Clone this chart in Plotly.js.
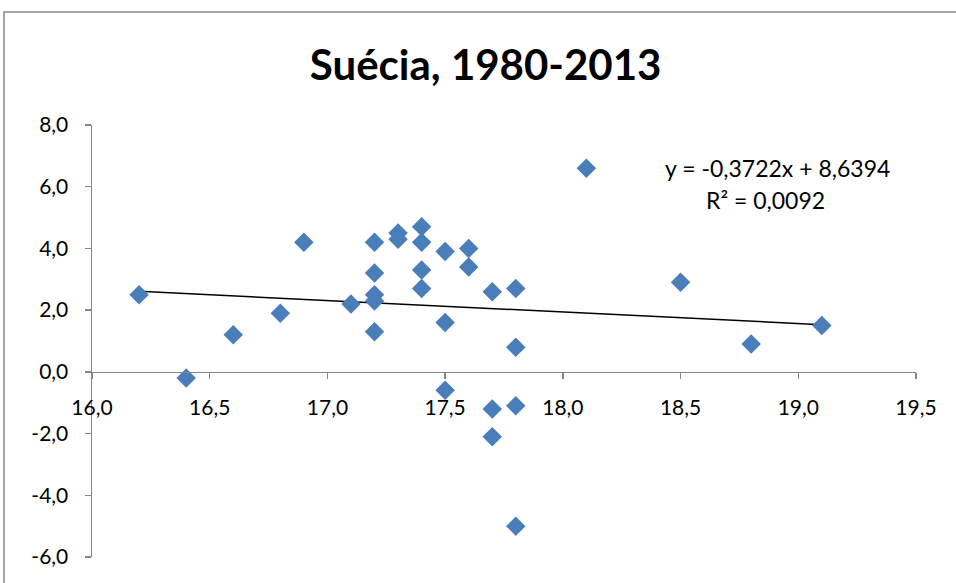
<!DOCTYPE html>
<html>
<head>
<meta charset="utf-8">
<script src="https://cdn.plot.ly/plotly-3.0.1.min.js"></script>
<style>
html,body{margin:0;padding:0;background:#fff;}
#chart{width:956px;height:583px;}
</style>
</head>
<body>
<div id="chart"></div>
<script>
// Data
const xValues = [16.2, 16.4, 16.6, 16.8, 16.9, 17.1, 17.2, 17.2, 17.2, 17.2, 17.2, 17.3, 17.3, 17.4, 17.4, 17.4, 17.4, 17.5, 17.5, 17.5, 17.6, 17.6, 17.7, 17.7, 17.7, 17.8, 17.8, 17.8, 17.8, 18.1, 18.5, 18.8, 19.1];
const yValues = [2.5, -0.2, 1.2, 1.9, 4.2, 2.2, 4.2, 3.2, 2.5, 2.3, 1.3, 4.5, 4.3, 4.7, 4.2, 3.3, 2.7, 3.9, 1.6, -0.6, 4.0, 3.4, 2.6, -1.2, -2.1, 2.7, 0.8, -1.1, -5.0, 6.6, 2.9, 0.9, 1.5];
const trendSlope = -0.3722;
const trendIntercept = 8.6394;
const rSquared = 0.0092;
const chartTitle = "Suécia, 1980-2013";
const xTickVals = [16.0, 16.5, 17.0, 17.5, 18.0, 18.5, 19.0, 19.5];
const yTickVals = [-6.0, -4.0, -2.0, 0.0, 2.0, 4.0, 6.0, 8.0];

const fmt = (v, d) => v.toFixed(d).replace('.', ',');
const xMin = Math.min(...xValues), xMax = Math.max(...xValues);
const trendX = [xMin, xMax];
const trendY = trendX.map(x => trendSlope * x + trendIntercept);

const font = "Lato, 'Open Sans', sans-serif";
const axisColor = '#868686';

const traces = [
  {
    x: trendX, y: trendY, type: 'scatter', mode: 'lines',
    line: {color: '#000000', width: 1.5}, hoverinfo: 'skip', showlegend: false
  },
  {
    x: xValues, y: yValues, type: 'scatter', mode: 'markers',
    marker: {symbol: 'diamond', size: 15, color: '#4A7EBB', line: {width: 0}},
    showlegend: false
  }
];

const yMin = -6, yMax = 8;
const layout = {
  width: 956, height: 583,
  margin: {l: 92, r: 40, t: 125, b: 26},
  paper_bgcolor: '#ffffff', plot_bgcolor: '#ffffff',
  separators: ', ',
  font: {family: font, color: '#000000', size: 21},
  title: {
    text: '<b>' + chartTitle + '</b>',
    font: {family: font, size: 42, color: '#000000'},
    x: 0.508, xref: 'container', xanchor: 'center',
    y: 0.888, yref: 'container', yanchor: 'middle'
  },
  xaxis: {
    range: [16.0, 19.5], tickvals: xTickVals, ticktext: xTickVals.map(v => fmt(v, 1)),
    showgrid: false, zeroline: false,
    showline: true, linecolor: axisColor, linewidth: 1.5,
    ticks: 'outside', ticklen: 6, tickcolor: axisColor, tickwidth: 1.5,
    ticklabelstandoff: 10,
    anchor: 'free', position: (0 - yMin) / (yMax - yMin),
    tickfont: {family: font, size: 21, color: '#000000'}
  },
  yaxis: {
    range: [yMin, yMax], tickvals: yTickVals, ticktext: yTickVals.map(v => fmt(v, 1)),
    showgrid: false, zeroline: false,
    showline: true, linecolor: axisColor, linewidth: 1.5,
    ticks: 'outside', ticklen: 6, tickcolor: axisColor, tickwidth: 1.5,
    ticklabelstandoff: 12,
    tickfont: {family: font, size: 21, color: '#000000'}
  },
  shapes: [{
    type: 'rect', xref: 'paper', yref: 'paper',
    x0: -0.1068, x1: 1.1, y0: -0.2, y1: 1.2616,
    line: {color: axisColor, width: 1.5}, fillcolor: 'rgba(0,0,0,0)'
  }],
  annotations: [
    {
      text: 'y = ' + fmt(trendSlope, 4) + 'x + ' + fmt(trendIntercept, 4),
      xref: 'paper', yref: 'paper', x: (777 - 92) / 824, y: (557 - 168) / 432,
      xanchor: 'center', yanchor: 'middle', showarrow: false,
      font: {family: font, size: 23, color: '#000000'}
    },
    {
      text: 'R² = ' + fmt(rSquared, 4),
      xref: 'paper', yref: 'paper', x: (765 - 92) / 824, y: (557 - 200) / 432,
      xanchor: 'center', yanchor: 'middle', showarrow: false,
      font: {family: font, size: 23, color: '#000000'}
    }
  ]
};

Plotly.newPlot('chart', traces, layout, {displayModeBar: false, staticPlot: true});
</script>
</body>
</html>
